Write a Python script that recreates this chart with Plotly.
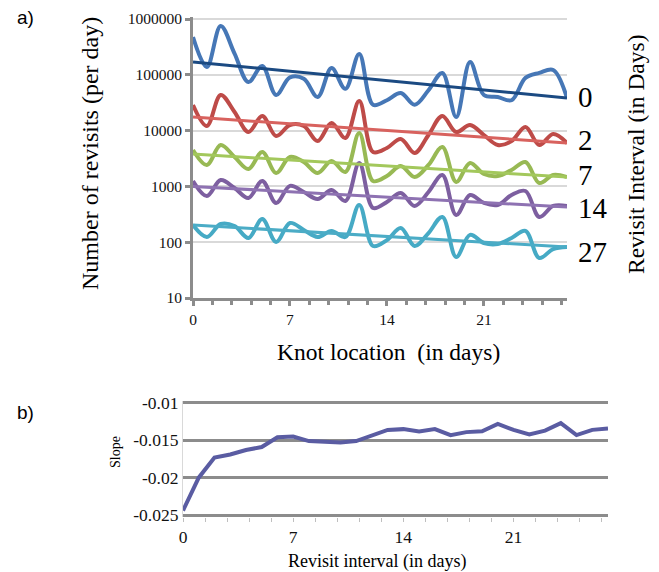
import plotly.graph_objects as go

W, H = 659, 572

# ---- data: panel a) daily revisit counts per revisit interval ----
days = list(range(28))
interval_labels = ["0", "2", "7", "14", "27"]

rev_0 = [476000, 138000, 750000, 240000, 74000, 144000, 43500, 90000, 85000, 40000,
         132000, 56000, 236000, 29000, 35000, 47000, 29000, 53000, 108000, 17500,
         170000, 43500, 40000, 35000, 88000, 108000, 122000, 38400]
rev_2 = [28800, 12100, 43500, 21500, 9440, 18300, 8000, 12600, 12100, 6510,
         13700, 7370, 33900, 4130, 4880, 7070, 3970, 8340, 18300, 9440,
         12600, 8340, 5520, 6500, 11600, 5520, 8690, 6000]
rev_7 = [4490, 2420, 5520, 3370, 2050, 4130, 1740, 3370, 2740, 1740,
         2850, 1810, 9060, 1250, 1540, 2320, 1470, 2420, 5080, 1200,
         2630, 1670, 1540, 1970, 2740, 1150, 1600, 1470]
rev_14 = [1250, 673, 1300, 935, 619, 1250, 505, 1020, 794, 595,
          861, 547, 2630, 410, 525, 762, 446, 794, 1600, 307,
          701, 505, 464, 701, 828, 283, 446, 446]
rev_27 = [203, 124, 212, 195, 119, 261, 101, 221, 166, 124,
          159, 124, 464, 85.5, 109, 180, 85.5, 146, 283, 54.3,
          135, 96.8, 92.9, 119, 159, 52.1, 75.5, 82]

# exponential trend lines: value at day 0 and at day 27
trend_start = [170000, 17500, 3800, 1000, 203]
trend_end = [38400, 6000, 1470, 427, 82]

y_ticks = [10, 100, 1000, 10000, 100000, 1000000]
y_ticktext = ["10", "100", "1000", "10000", "100000", "1000000"]

# ---- data: panel b) slope per revisit interval ----
slope_interval = list(range(28))
slope = [-0.0244, -0.0200, -0.0173, -0.0169, -0.0163, -0.0159, -0.0146, -0.0145,
         -0.0151, -0.0152, -0.0153, -0.0151, -0.0144, -0.0136, -0.0135, -0.0138,
         -0.0135, -0.0143, -0.0139, -0.0138, -0.0128, -0.0136, -0.0142, -0.0137,
         -0.0127, -0.0143, -0.0136, -0.0134]
slope_ticks = [-0.025, -0.02, -0.015, -0.01]
slope_ticktext = ["-0.025", "-0.02", "-0.015", "-0.01"]

series = [rev_0, rev_2, rev_7, rev_14, rev_27]
data_colors = ["#4677B6", "#BE4B48", "#98B954", "#7D5FA0", "#46AAC5"]
trend_colors = ["#1B4A82", "#D8625E", "#A3C85C", "#8E72B2", "#4BACC6"]


def px_x(p):
    return p / W


def px_y(p):
    return 1 - p / H


fig = go.Figure()

for vals, col in zip(series, data_colors):
    fig.add_trace(go.Scatter(x=days, y=vals, mode="lines",
                             line=dict(color=col, width=4, shape="spline", smoothing=1.0),
                             xaxis="x", yaxis="y", showlegend=False, hoverinfo="skip"))
for s, e, col in zip(trend_start, trend_end, trend_colors):
    fig.add_trace(go.Scatter(x=[days[0], days[-1]], y=[s, e], mode="lines",
                             line=dict(color=col, width=3),
                             xaxis="x", yaxis="y", showlegend=False, hoverinfo="skip"))

fig.add_trace(go.Scatter(x=slope_interval, y=slope, mode="lines",
                         line=dict(color="#5A5CA2", width=4),
                         xaxis="x2", yaxis="y2", showlegend=False, hoverinfo="skip"))

serif = "Liberation Serif"
tick_font = dict(family=serif, size=15.5, color="#111111")
tick_font2 = dict(family=serif, size=17.5, color="#111111")

# top panel: 1 decade = 55.8 px; extend 2 px above so top gridline is drawn
dec_px = 55.8
top_extra = 2 / dec_px
# bottom panel: 0.005 = 37.5 px; extend 2 px on both ends
b_extra = 0.005 * 2 / 37.5

fig.update_layout(
    width=W, height=H, autosize=False, showlegend=False,
    margin=dict(l=0, r=0, t=0, b=0, pad=0, autoexpand=False),
    paper_bgcolor="white", plot_bgcolor="white",
    xaxis=dict(domain=[px_x(193), px_x(567)], anchor="y", range=[0, 27], automargin=False,
               tickmode="linear", tick0=0, dtick=7,
               showgrid=False, zeroline=False,
               showline=True, linecolor="#8C8C8C", linewidth=3,
               ticks="outside", ticklen=5, tickwidth=3, tickcolor="#8C8C8C",
               minor=dict(dtick=1.4, tick0=0, ticks="outside", ticklen=4,
                          tickwidth=3, tickcolor="#8C8C8C", showgrid=False),
               tickfont=tick_font),
    yaxis=dict(domain=[px_y(298), px_y(17)], anchor="x", type="log",
               range=[1, 6 + top_extra], automargin=False,
               tickmode="array", tickvals=y_ticks, ticktext=y_ticktext,
               showgrid=True, gridcolor="#D9D9D9", gridwidth=2,
               zeroline=False,
               showline=True, linecolor="#8C8C8C", linewidth=3,
               ticks="outside", ticklen=5, tickwidth=3, tickcolor="#8C8C8C",
               tickfont=tick_font),
    xaxis2=dict(domain=[px_x(183), px_x(608)], anchor="y2", range=[0, 27], automargin=False,
                tickmode="linear", tick0=0, dtick=7,
                showgrid=False, zeroline=False, showline=False,
                ticks="outside", ticklen=4, tickwidth=1, tickcolor="#BFBFBF",
                minor=dict(dtick=1.4, tick0=0, ticks="outside", ticklen=4,
                           tickwidth=1, tickcolor="#BFBFBF", showgrid=False),
                tickfont=tick_font2),
    yaxis2=dict(domain=[px_y(517), px_y(401)], anchor="x2",
                range=[-0.025 - b_extra, -0.01 + b_extra], automargin=False,
                tickmode="array", tickvals=slope_ticks, ticktext=slope_ticktext,
                showgrid=True, gridcolor="#8C8C8C", gridwidth=2.5,
                zeroline=False,
                showline=True, linecolor="#D9D9D9", linewidth=1,
                ticks="", tickfont=tick_font2),
)

ann = []
# right-side interval labels at the end of each trend line
label_y = [97, 140, 175, 208, 252]
for lab, yy in zip(interval_labels, label_y):
    ann.append(dict(text=lab, x=px_x(576), y=px_y(yy), xref="paper", yref="paper",
                    xanchor="left", yanchor="middle", showarrow=False,
                    font=dict(family=serif, size=29, color="#000000")))

ann += [
    dict(text="Number of revisits (per day)", x=px_x(90), y=px_y(153), xref="paper", yref="paper",
         textangle=-90, showarrow=False, xanchor="center", yanchor="middle",
         font=dict(family=serif, size=24, color="#000000")),
    dict(text="Revisit Interval (in Days)", x=px_x(636), y=px_y(154), xref="paper", yref="paper",
         textangle=-90, showarrow=False, xanchor="center", yanchor="middle",
         font=dict(family=serif, size=23.5, color="#000000")),
    dict(text="Knot location  (in days)", x=px_x(388), y=px_y(352), xref="paper", yref="paper",
         showarrow=False, xanchor="center", yanchor="middle",
         font=dict(family=serif, size=23.5, color="#000000")),
    dict(text="Slope", x=px_x(115), y=px_y(452), xref="paper", yref="paper",
         textangle=-90, showarrow=False, xanchor="center", yanchor="middle",
         font=dict(family=serif, size=14, color="#000000")),
    dict(text="Revisit interval (in days)", x=px_x(377), y=px_y(561), xref="paper", yref="paper",
         showarrow=False, xanchor="center", yanchor="middle",
         font=dict(family=serif, size=18, color="#000000")),
    dict(text="a)", x=px_x(15), y=px_y(18), xref="paper", yref="paper",
         showarrow=False, xanchor="left", yanchor="middle",
         font=dict(family="Liberation Sans", size=19, color="#000000")),
    dict(text="b)", x=px_x(15), y=px_y(412), xref="paper", yref="paper",
         showarrow=False, xanchor="left", yanchor="middle",
         font=dict(family="Liberation Sans", size=19, color="#000000")),
]
fig.update_layout(annotations=ann)

fig.write_html("out.html", config={"displayModeBar": False, "responsive": False},
               post_script="document.body.style.margin='0px';"
                           "document.body.style.overflow='hidden';")
